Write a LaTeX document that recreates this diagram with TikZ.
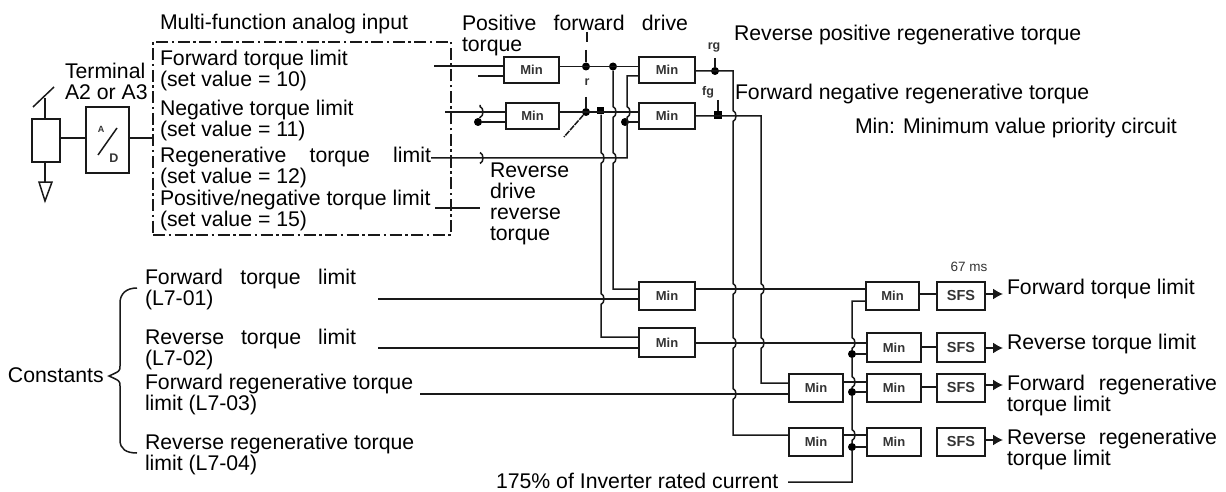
\documentclass[tikz,border=0pt]{standalone}
\usepackage{fontspec}
\setmainfont{Liberation Sans}
\usetikzlibrary{arrows.meta}
\newcommand{\Jmp}[2]{-- (#1,#2-5.5) .. controls (#1+4,#2-4) and (#1+4,#2+4) .. (#1,#2+5.5)}
\newcommand{\Just}[2]{\makebox[#1pt][s]{#2}}
\tikzset{
  wire/.style={line width=1.5pt,black!90},
  lbl/.style={anchor=base west,inner sep=0pt,outer sep=0pt,align=left,font=\fontsize{21.25}{21}\selectfont,text=black},
  tiny/.style={inner sep=0pt,font=\fontsize{12.5}{13}\selectfont\bfseries,text=black!80},
  minbox/.style={draw=black!90,line width=1.5pt,inner sep=0pt,outer sep=0pt,font=\fontsize{13}{14}\selectfont\bfseries,text=black!80},
  narrowbox/.style={minbox,minimum width=55pt,minimum height=26pt},
  widebox/.style={minbox,minimum width=54pt,minimum height=28pt},
  sfsbox/.style={minbox,minimum width=48pt,minimum height=28pt,font=\fontsize{14.5}{15}\selectfont\bfseries},
  dot/.style={circle,fill=black,inner sep=0pt,minimum size=8pt},
  sqdot/.style={rectangle,fill=black,inner sep=0pt,minimum size=7pt},
  outarrow/.style={wire,shorten >=4pt,-{Latex[length=10pt,width=11pt]}}
}
\begin{document}
\begin{tikzpicture}[x=1pt,y=-1pt]
\useasboundingbox (0,0) rectangle (1226,492);
% boxes
\node[narrowbox] (minA) at (531.5,70) {Min};
\node[narrowbox,minimum width=53pt] (minB) at (532.5,116) {Min};
\node[narrowbox,minimum width=56pt] (mA) at (667,70) {Min};
\node[narrowbox,minimum width=56pt] (mB) at (667,116) {Min};
\node[narrowbox,minimum width=56pt,minimum height=28pt] (mC) at (667,296) {Min};
\node[narrowbox,minimum width=56pt,minimum height=29pt] (mD) at (667,342.5) {Min};
\node[widebox] (minC) at (816,388) {Min};
\node[widebox] (minD) at (816,442) {Min};
\node[widebox,minimum width=53pt] (minE) at (892.5,296) {Min};
\node[widebox,minimum height=29pt] (minF) at (894,347.5) {Min};
\node[widebox] (minG) at (894,388) {Min};
\node[widebox] (minH) at (894,442) {Min};
\node[sfsbox] (sfsA) at (961,296) {SFS};
\node[sfsbox,minimum height=29pt] (sfsB) at (961,347.5) {SFS};
\node[sfsbox] (sfsC) at (961,388) {SFS};
\node[sfsbox] (sfsD) at (961,442) {SFS};
% input section
\node[draw=black!90,line width=1.5pt,minimum width=28pt,minimum height=43pt,inner sep=0pt,outer sep=0pt] (pot) at (46,140.5) {};
\node[draw=black!90,line width=1.5pt,minimum width=43pt,minimum height=66pt,inner sep=0pt,outer sep=0pt] (ad) at (107.5,140) {};
\node[draw=black!90,line width=1.3pt,dash pattern=on 12pt off 3.5pt on 2.5pt off 3.5pt,minimum width=298pt,minimum height=193pt,inner sep=0pt,outer sep=0pt] (mfa) at (302,138.5) {};
\node[tiny,font=\fontsize{9}{9}\selectfont\bfseries] (adA) at (101,129) {A};
\node[tiny] (adD) at (114,158) {D};
\coordinate (adS) at (98,155);
\coordinate (adE) at (117,128);
\draw[wire] (adS) -- (adE);
\coordinate (potTop) at (45,98);
\coordinate (slA) at (33,107);
\coordinate (slB) at (54,87);
\coordinate (gnd) at (45,182);
\coordinate (gndL) at (39,182);
\coordinate (gndR) at (52,182);
\coordinate (gndT) at (45,201);
\draw[wire] (slA) -- (slB);
\draw[wire] (potTop) -- (pot.north -| potTop);
\draw[wire] (pot.south -| gnd) -- (gnd);
\draw[wire] (gndL) -- (gndT) -- (gndR) -- cycle;
\draw[wire] (pot.east |- 0,138) -- (ad.west |- 0,138);
\draw[wire] (ad.east |- 0,138) -- (mfa.west |- 0,138);
% top stage
\coordinate (inFwd) at (434,66);
\coordinate (inFwdB) at (478,76);
\coordinate (inNeg) at (445,112);
\coordinate (inReg) at (431,158);
\coordinate (inPN) at (435,208);
\coordinate (inPNe) at (480,208);
\node[dot] (dNeg) at (478,122) {};
\draw[wire] (inFwd) -- (minA.west |- inFwd);
\draw[wire] (inFwdB) -- (minA.west |- inFwdB);
\draw[wire] (inNeg) -- (minB.west |- inNeg);
\draw[wire] (dNeg) -- (minB.west |- dNeg);
\draw[wire] (inPN) -- (inPNe);
\coordinate (hookA) at (480,105);
\draw[wire] (hookA) \Jmp{480}{112} -- (dNeg);
\coordinate (hookB) at (480,152.5);
\draw[wire] (hookB) \Jmp{480}{158};
% output buses
\node[dot] (dI) at (586,66.5) {};
\node[dot] (dP) at (613,66.5) {};
\node[dot] (dR) at (586,112) {};
\node[sqdot] (sqR) at (600,111) {};
\draw[wire] (minA.east |- dI) -- (mA.west |- dI);
\draw[wire] (minB.east |- dR) -- (mB.west |- dR);
\coordinate (stubI) at (586,50);
\coordinate (tickA) at (587,32);
\coordinate (tickB) at (587,42);
\coordinate (stubR) at (586,97);
\coordinate (slant) at (564,137);
\draw[wire] (stubI) -- (dI);
\draw[wire] (tickA) -- (tickB);
\draw[wire] (stubR) -- (dR);
\draw[wire,dash pattern=on 6pt off 1pt] (dR) -- (slant);
\draw[wire] (dP) \Jmp{613}{112} \Jmp{613}{158} -- (613,289) -- (mC.west |- 0,289);
\draw[wire] (sqR.south -| 601,0) \Jmp{601}{158} \Jmp{601}{299} -- (601,337) -- (mD.west |- 0,337);
\node[dot] (dRegB) at (625,122) {};
\draw[wire] (dRegB) -- (mB.west |- dRegB);
\draw[wire] (mA.west |- 0,76) -- (627,76) \Jmp{627}{112} -- (627,158) -- (inReg);
% rg / fg
\node[dot] (dRg) at (715,71) {};
\node[sqdot,minimum size=8pt] (dFg) at (718,115.5) {};
\coordinate (stubRg) at (715,58);
\coordinate (stubFg) at (718,100);
\draw[wire] (stubRg) -- (dRg);
\draw[wire] (stubFg) -- (dFg);
\draw[wire] (mA.east |- dRg) -- (733,71) \Jmp{733}{116} \Jmp{733}{289} \Jmp{733}{343} \Jmp{733}{394} -- (733,435) -- (minD.west |- 0,435);
\draw[wire] (mB.east |- 0,116) -- (761,116) \Jmp{761}{289} \Jmp{761}{343} -- (761,383) -- (minC.west |- 0,383);
% constants
\coordinate (cFwd) at (378,299);
\coordinate (cRev) at (378,348);
\coordinate (cFrg) at (420,394);
\draw[wire] (cFwd) -- (mC.west |- cFwd);
\draw[wire] (cRev) -- (mD.west |- cRev);
\draw[wire] (cFrg) -- (minC.west |- cFrg);
% second stage
\draw[wire] (mC.east |- 0,289) -- (minE.west |- 0,289);
\draw[wire] (mD.east |- 0,343) -- (minF.west |- 0,343);
\draw[wire] (minC.east |- 0,382) -- (minG.west |- 0,382);
\draw[wire] (minD.east |- 0,435) -- (minH.west |- 0,435);
\node[dot] (dF) at (852,354) {};
\node[dot] (dG) at (852,392) {};
\node[dot] (dH) at (852,447) {};
\draw[wire] (dF) -- (minF.west |- dF);
\draw[wire] (dG) -- (minG.west |- dG);
\draw[wire] (dH) -- (minH.west |- dH);
\coordinate (rated) at (788,482);
\draw[wire] (minE.west |- 0,301) -- (852,301) \Jmp{852}{343} -- (dF) -- (852,370) \Jmp{852}{382} -- (dG) -- (852,425) \Jmp{852}{435} -- (dH) -- (852,482) -- (rated);
\draw[wire] (minE.east |- 0,294) -- (sfsA.west |- 0,294);
\draw[wire] (minF.east |- 0,347) -- (sfsB.west |- 0,347);
\draw[wire] (minG.east |- 0,387) -- (sfsC.west |- 0,387);
% outputs
\node[lbl] (oFwd) at (1007,294) {Forward torque limit};
\node[lbl] (oRev) at (1007,349) {Reverse torque limit};
\node[lbl] (oFrg) at (1007,411) {\Just{210}{Forward\hfill regenerative}\\torque limit};
\node[lbl] (oRrg) at (1007,465) {\Just{210}{Reverse\hfill regenerative}\\torque limit};
\draw[outarrow] (sfsA.east |- 0,294) -- (oFwd.west |- 0,294);
\draw[outarrow] (sfsB.east |- 0,348) -- (oRev.west |- 0,348);
\draw[outarrow] (sfsC.east |- 0,385) -- (oFrg.west |- 0,385);
\draw[outarrow] (sfsD.east |- 0,440) -- (oRrg.west |- 0,440);
% brace
\coordinate (brT) at (137,288);
\coordinate (brB) at (137,453);
\coordinate (brTip) at (109,376);
\draw[wire] (brT) .. controls (126,288) and (120,294) .. (120,303) -- (120,366) .. controls (120,371) .. (brTip) .. controls (120,381) .. (120,386) -- (120,440) .. controls (120,449) and (126,453) .. (brB);
% texts
\node[lbl] (tTerm) at (65,100) {Terminal\\A2 or A3};
\node[lbl] (tMfa) at (160,30) {Multi-function analog input};
\node[lbl] (t1) at (160,87) {Forward torque limit\\(set value = 10)};
\node[lbl] (t2) at (160,137) {Negative torque limit\\(set value = 11)};
\node[lbl] (t3) at (160,183) {\Just{271}{Regenerative\hfill torque\hfill limit}\\(set value = 12)};
\node[lbl] (t4) at (160,226) {Positive/negative torque limit\\(set value = 15)};
\node[lbl] (tPos) at (462,52) {\Just{226}{Positive\hfill forward\hfill drive}\\torque};
\node[lbl] (tRev) at (490,240) {Reverse\\drive\\reverse\\torque};
\node[lbl] (tRp) at (734,41) {Reverse positive regenerative torque};
\node[lbl] (tFn) at (735,100) {Forward negative regenerative torque};
\node[lbl] (tMin) at (855,134) {Min: Minimum value priority circuit};
\node[lbl] (tCon) at (8,382) {Constants};
\node[lbl] (c1) at (145,305) {\Just{211}{Forward\hfill torque\hfill limit}\\(L7-01)};
\node[lbl] (c2) at (145,365) {\Just{211}{Reverse\hfill torque\hfill limit}\\(L7-02)};
\node[lbl] (c3) at (145,410) {Forward regenerative torque\\limit (L7-03)};
\node[lbl] (c4) at (145,470) {Reverse regenerative torque\\limit (L7-04)};
\node[lbl] (tRated) at (496,488) {175\% of Inverter rated current};
\node[tiny] (lI) at (714,47) {rg};
\node[tiny] (lF) at (708,92) {fg};
\node[tiny] (lR) at (587,82) {r};
\node[tiny,font=\fontsize{13.5}{14}\selectfont] (lMs) at (969,267) {67 ms};
\end{tikzpicture}
\end{document}
